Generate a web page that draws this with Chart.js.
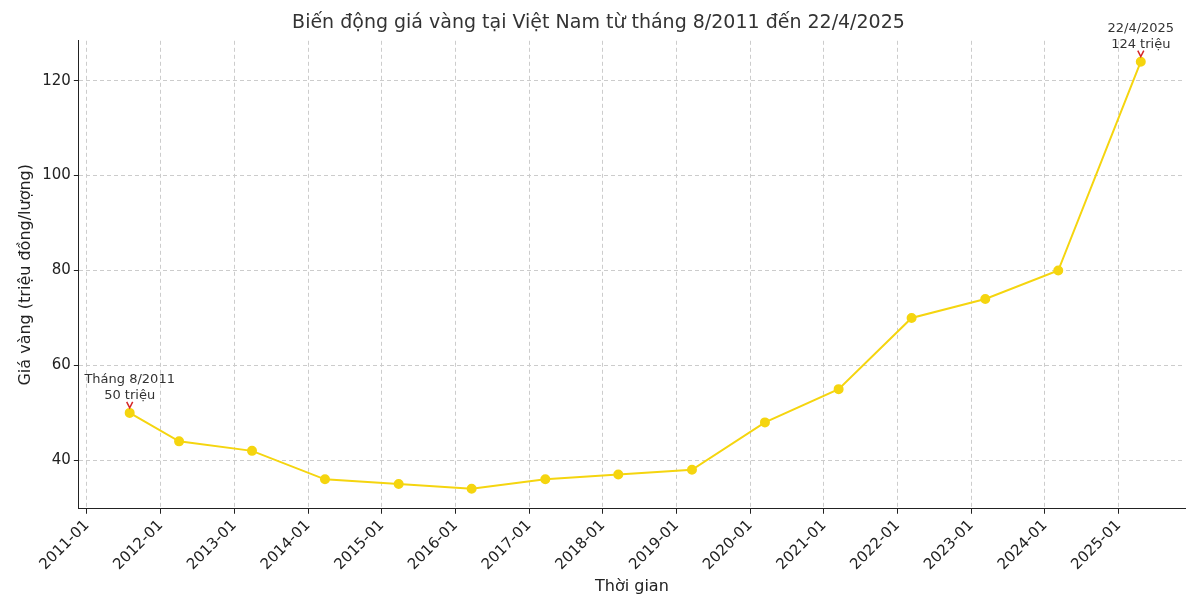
<!doctype html>
<html lang="vi">
<head>
<meta charset="UTF-8" />
<title>Giá vàng</title>
<script src="https://cdn.jsdelivr.net/npm/chart.js"></script>
<style>
  body { margin: 0; background: #fff; }
  canvas { display: block; }
</style>
</head>
<body>
<canvas id="goldChart" width="1200" height="600"></canvas>
<script>
  // decimal years for each observation
  const years = [2011.58, 2012.25, 2013.24, 2014.23, 2015.23, 2016.22, 2017.22, 2018.21, 2019.21, 2020.2, 2021.2, 2022.19, 2023.19, 2024.18, 2025.3];
  const prices = [50, 44, 42, 36, 35, 34, 36, 37, 38, 48, 55, 70, 74, 80, 124];
  const notes = [
    { index: 0, lines: ['Tháng 8/2011', '50 triệu'] },
    { index: 14, lines: ['22/4/2025', '124 triệu'] }
  ];

  const font = "'DejaVu Sans', sans-serif";

  const notePlugin = {
    id: 'notes',
    afterDatasetsDraw(chart) {
      const ctx = chart.ctx;
      const meta = chart.getDatasetMeta(0);
      ctx.save();
      notes.forEach(n => {
        const p = meta.data[n.index];
        // little red arrow
        ctx.strokeStyle = '#d62728';
        ctx.lineWidth = 1.5;
        ctx.beginPath();
        ctx.moveTo(p.x - 3, p.y - 11);
        ctx.lineTo(p.x, p.y - 5);
        ctx.lineTo(p.x + 3, p.y - 11);
        ctx.stroke();
        ctx.fillStyle = '#333';
        ctx.font = '13px ' + font;
        ctx.textAlign = 'center';
        ctx.fillText(n.lines[0], p.x, p.y - 30);
        ctx.fillText(n.lines[1], p.x, p.y - 14);
      });
      ctx.restore();
    }
  };

  new Chart(document.getElementById('goldChart'), {
    type: 'line',
    data: {
      datasets: [{
        data: years.map((y, i) => ({ x: y, y: prices[i] })),
        borderColor: '#f5d50f',
        backgroundColor: '#f5d50f',
        borderWidth: 2,
        pointRadius: 4,
        tension: 0
      }]
    },
    options: {
      responsive: false,
      animation: false,
      layout: { padding: { top: 0, right: 15, left: 12, bottom: 0 } },
      plugins: {
        legend: { display: false },
        tooltip: { enabled: false },
        title: {
          display: true,
          text: 'Biến động giá vàng tại Việt Nam từ tháng 8/2011 đến 22/4/2025',
          color: '#333',
          font: { family: font, size: 19, weight: 'normal' },
          padding: { top: 12, bottom: 6 }
        }
      },
      scales: {
        x: {
          type: 'linear',
          min: 2010.89,
          max: 2025.9,
          afterBuildTicks(axis) {
            axis.ticks = [];
            for (let y = 2011; y <= 2025; y++) axis.ticks.push({ value: y });
          },
          ticks: {
            color: '#222',
            font: { family: font, size: 15 },
            maxRotation: 45,
            minRotation: 45,
            callback: v => v + '-01'
          },
          grid: { color: '#ccc', tickColor: '#222', tickLength: 5 },
          border: { color: '#222', dash: [4, 3] },
          title: { display: true, text: 'Thời gian', color: '#222', font: { family: font, size: 16 }, padding: { top: 0, bottom: 4 } }
        },
        y: {
          min: 29.8,
          max: 128.4,
          afterBuildTicks(axis) {
            axis.ticks = [40, 60, 80, 100, 120].map(v => ({ value: v }));
          },
          ticks: { color: '#222', font: { family: font, size: 15 } },
          grid: { color: '#ccc', tickColor: '#222', tickLength: 5 },
          border: { color: '#222', dash: [4, 3] },
          title: { display: true, text: 'Giá vàng (triệu đồng/lượng)', color: '#222', font: { family: font, size: 16 } }
        }
      }
    }
    ,plugins: [notePlugin]
  });
</script>
</body>
</html>
